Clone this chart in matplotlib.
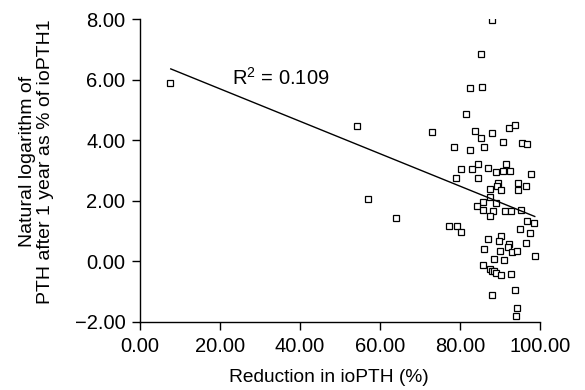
import matplotlib
matplotlib.use("Agg")
import matplotlib.pyplot as plt

reduction = [7.6, 54.25, 57.0, 63.9, 73.1, 88.1, 85.2, 82.4, 85.6, 81.4,
             83.7, 85.2, 87.9, 92.25, 93.7, 78.6, 82.5, 86.0, 90.8, 95.5,
             96.7, 80.25, 82.9, 84.5, 87.0, 89.0, 90.75, 92.6, 91.4, 97.7,
             79.0, 84.6, 89.4, 89.3, 87.6, 90.25, 94.6, 94.6, 96.6, 87.6,
             85.8, 89.0, 84.25, 85.7, 88.3, 91.3, 92.75, 95.2, 87.5, 96.7,
             98.6, 77.25, 79.2, 80.25, 95.1, 97.6, 86.9, 90.2, 89.75, 92.3,
             91.9, 92.9, 94.25, 96.6, 85.9, 90.0, 98.7, 88.4, 91.0, 85.75,
             87.5, 88.0, 88.6, 88.9, 90.2, 92.7, 93.8, 87.9, 94.3, 94.1]
log_pth = [5.91, 4.48, 2.05, 1.42, 4.26, 7.99, 6.84, 5.72, 5.76, 4.88,
           4.32, 4.06, 4.24, 4.41, 4.52, 3.78, 3.68, 3.79, 3.93, 3.91,
           3.87, 3.05, 3.05, 3.21, 3.09, 2.94, 2.98, 3.00, 3.20, 2.87,
           2.74, 2.74, 2.59, 2.50, 2.40, 2.35, 2.59, 2.37, 2.48, 2.13,
           1.95, 1.93, 1.83, 1.70, 1.66, 1.65, 1.67, 1.70, 1.50, 1.32,
           1.28, 1.17, 1.18, 0.98, 1.05, 0.95, 0.74, 0.82, 0.68, 0.57,
           0.47, 0.30, 0.34, 0.59, 0.40, 0.33, 0.17, 0.09, 0.03, -0.12,
           -0.27, -0.31, -0.33, -0.39, -0.46, -0.43, -0.95, -1.13, -1.54, -1.80]

fit_x = [7.7, 98.7]
fit_y = [6.36, 1.48]

x_ticks = [0, 20, 40, 60, 80, 100]
y_ticks = [-2, 0, 2, 4, 6, 8]
r2_label = "R$^2$ = 0.109"

plt.rcParams['font.family'] = ['Liberation Sans', 'DejaVu Sans']
plt.rcParams['mathtext.fontset'] = 'custom'
plt.rcParams['mathtext.rm'] = 'Liberation Sans'
plt.rcParams['mathtext.default'] = 'regular'

fig = plt.figure(figsize=(5.85, 3.9), dpi=100)
ax = fig.add_axes([0.2393, 0.1751, 0.6837, 0.7754])

ax.plot(reduction, log_pth, linestyle='none', marker='s', markersize=4.2,
        markerfacecolor='white', markeredgecolor='black', markeredgewidth=0.9)
ax.plot(fit_x, fit_y, color='black', linewidth=1.0)

ax.set_xlim(0, 100)
ax.set_ylim(-2, 8)
ax.set_xticks(x_ticks)
ax.set_yticks(y_ticks)
ax.set_xticklabels([f"{v:.2f}" for v in x_ticks])
ax.set_yticklabels([f"{v:.2f}".replace('-', '\u2212') for v in y_ticks])

for s in ['top', 'right']:
    ax.spines[s].set_visible(False)
for s in ['left', 'bottom']:
    ax.spines[s].set_linewidth(1.0)
ax.tick_params(direction='out', length=6, width=1.0, labelsize=14.5)
ax.tick_params(axis='y', pad=4.5)
ax.tick_params(axis='x', pad=5)

ax.set_xlabel("Reduction in ioPTH (%)", fontsize=13.8)
ax.set_ylabel("Natural logarithm of\nPTH after 1 year as % of ioPTH1", fontsize=14,
              linespacing=1.1)
ax.xaxis.set_label_coords(0.4725, -0.155)
ax.yaxis.set_label_coords(-0.215, 0.53)

ax.text(23.0, 6.05, r2_label, fontsize=14.5, ha='left', va='center')

fig.savefig("out.png", dpi=100)
